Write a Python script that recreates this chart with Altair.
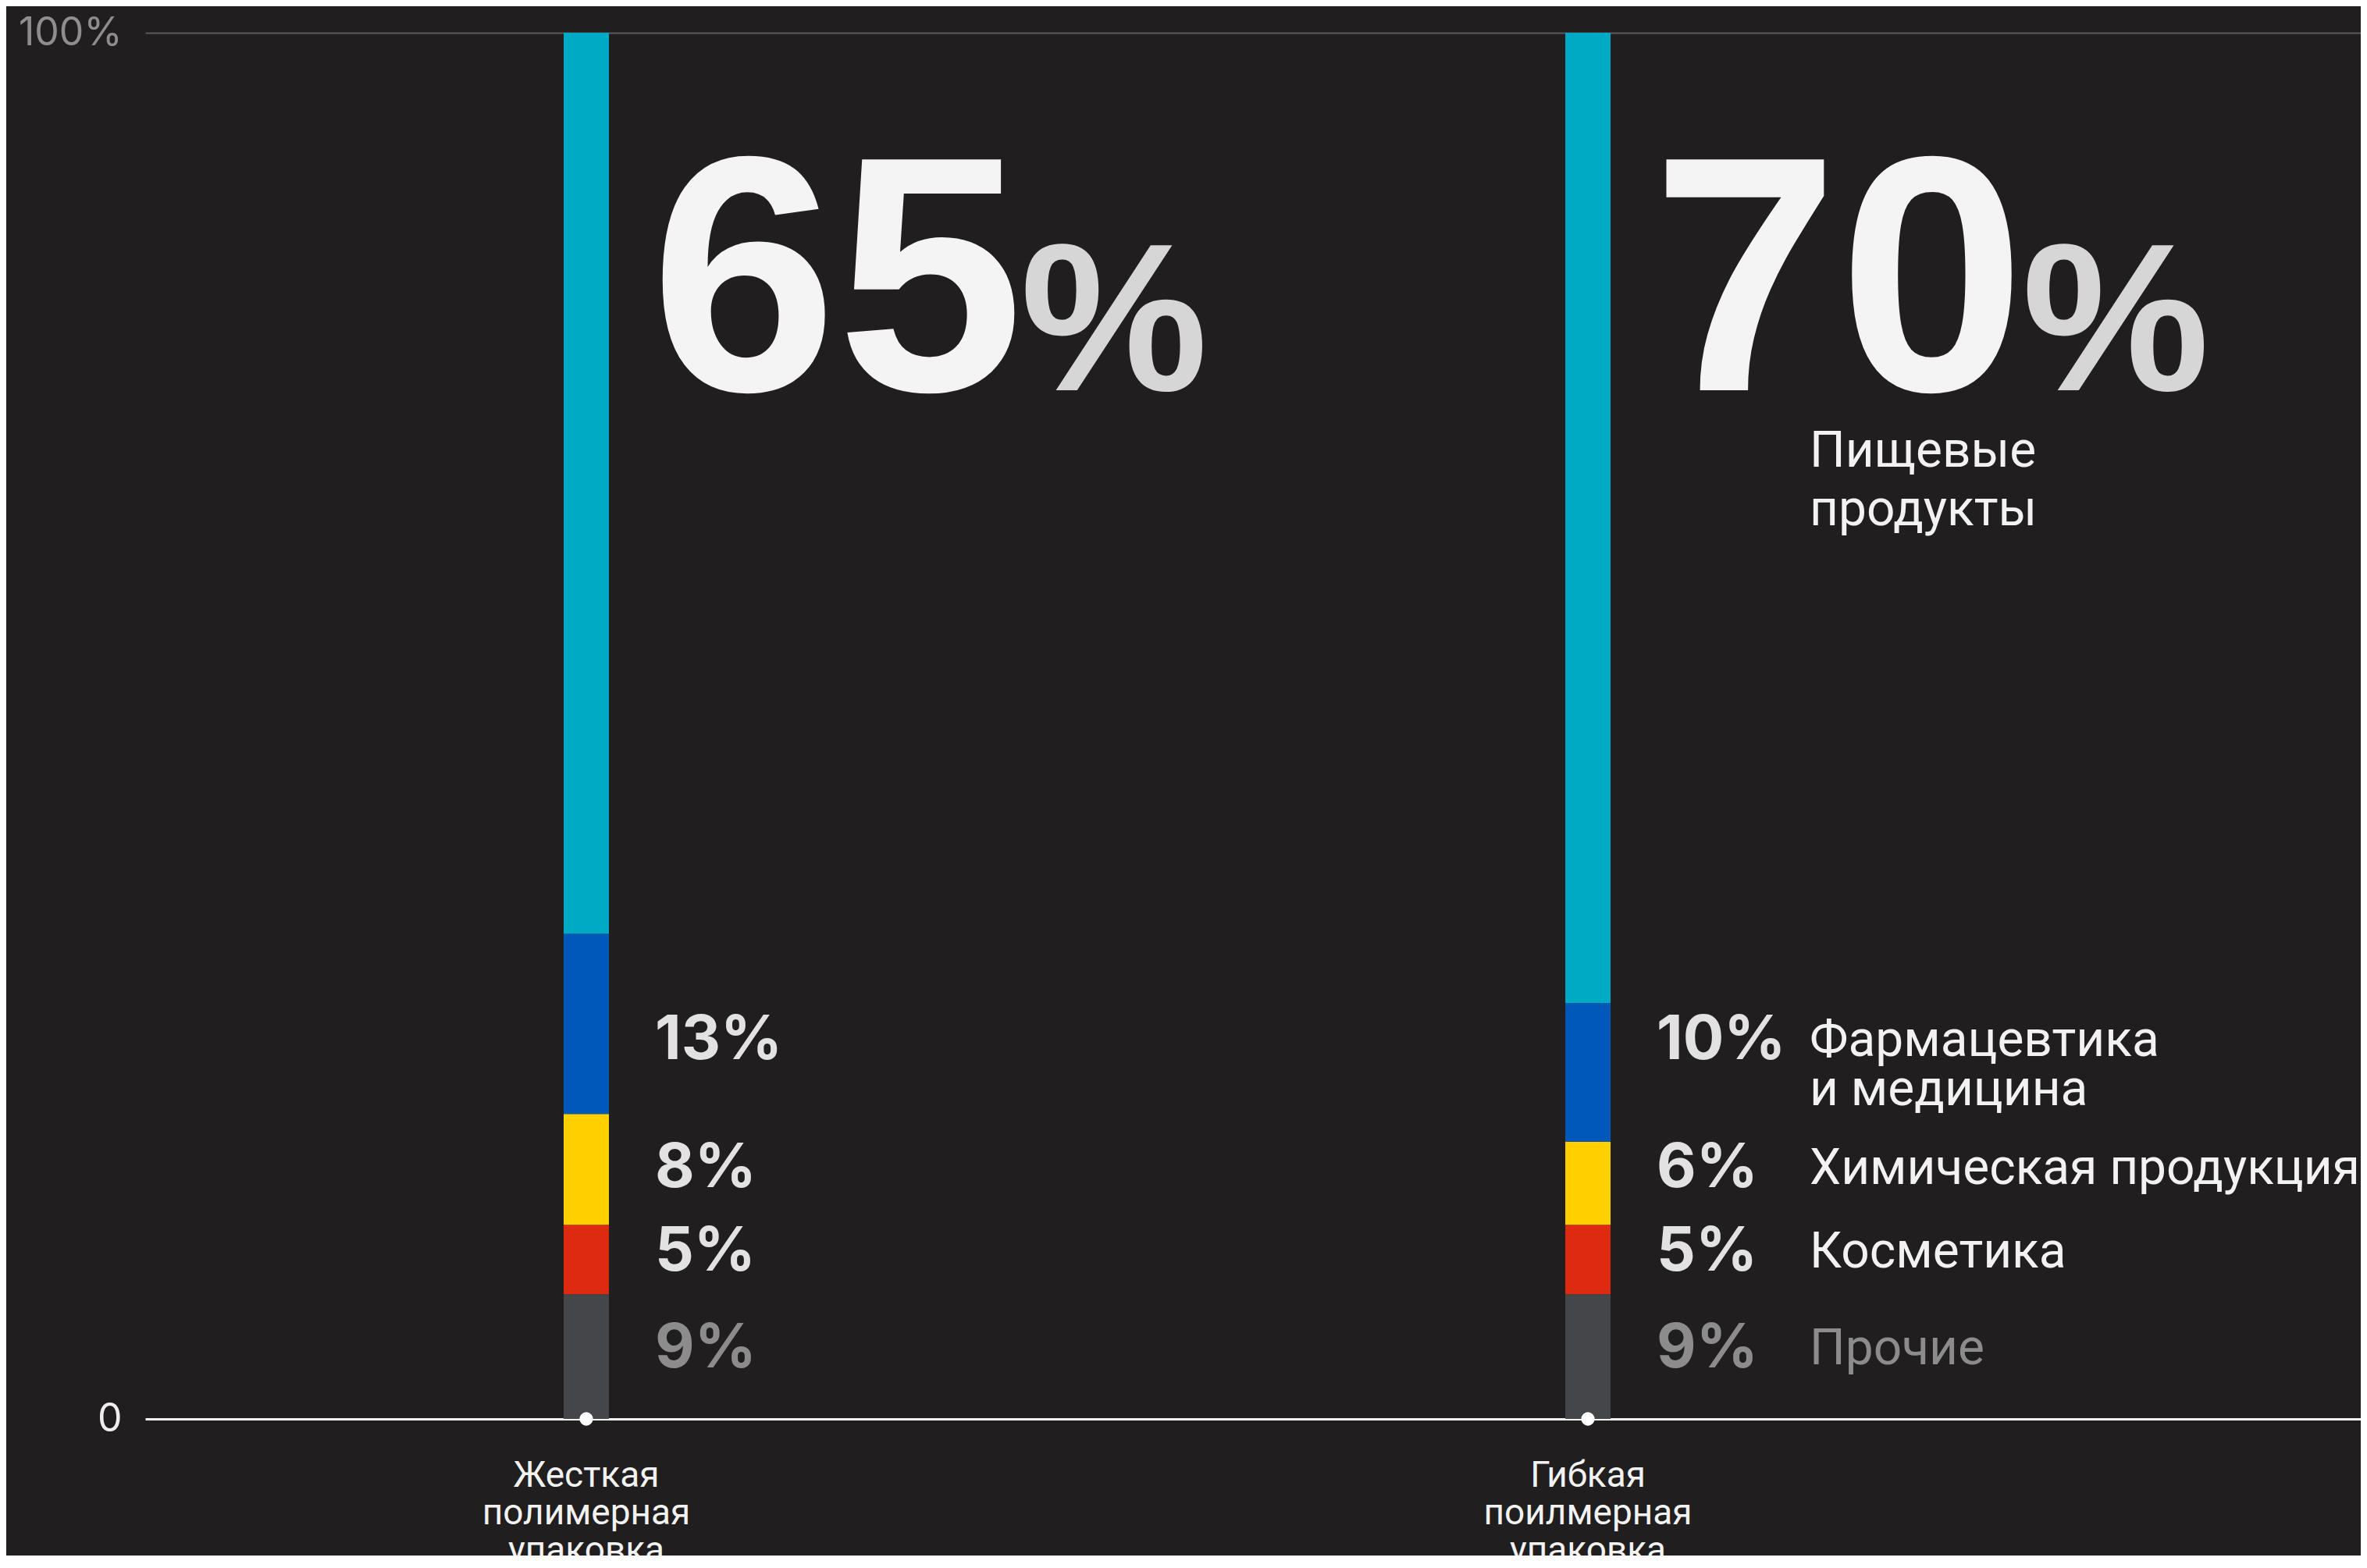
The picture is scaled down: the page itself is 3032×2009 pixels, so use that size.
import altair as alt
import pandas as pd

# ---- data ----
bars = ["Жесткая полимерная упаковка", "Гибкая поилмерная упаковка"]
segments = ["Пищевые продукты", "Фармацевтика и медицина", "Химическая продукция", "Косметика", "Прочие"]
segment_lines = [["Пищевые", "продукты"], ["Фармацевтика", "и медицина"], ["Химическая продукция"], ["Косметика"], ["Прочие"]]
rigid = [65, 13, 8, 5, 9]
flexible = [70, 10, 6, 5, 9]
colors = ["#00aac5", "#0058bb", "#ffd000", "#dd2a10", "#454649"]

# ---- tables built from the arrays ----
rows = []
for b, vals in zip(bars, [rigid, flexible]):
    base = 0
    for i in reversed(range(len(segments))):
        rows.append({"bar": b, "segment": segments[i], "idx": i, "value": vals[i],
                     "y0": base, "y1": base + vals[i], "mid": base + vals[i] / 2,
                     "pct": f"{vals[i]}%"})
        base += vals[i]
df = pd.DataFrame(rows)
avg_mid = df.groupby("segment")["mid"].mean()
df["label_y"] = df["segment"].map(avg_mid)
df["lines"] = df["idx"].map(lambda i: segment_lines[i])

small = df[df["idx"] > 0]
names = df[(df["bar"] == bars[1]) & (df["idx"] > 0)]
top_name = df[(df["bar"] == bars[1]) & (df["idx"] == 0)]
big = df[df["idx"] == 0]
dots = pd.DataFrame({"bar": bars, "zero": [0, 0]})

BG = "#201e1e"
LIGHT_FONT = "Roboto"
BIG_FONT = "Liberation Sans"

x_scale = alt.Scale(domain=bars, paddingInner=0.1193, paddingOuter=0.1656, align=0, round=False)
x_axis = alt.Axis(title=None, domain=False, ticks=False, grid=False, labelAngle=0,
                  labelExpr="split(datum.label, ' ')", labelFont=LIGHT_FONT,
                  labelFontSize=46, labelLineHeight=48, labelColor="#f2f2f2",
                  labelPadding=50, labelBaseline="top", labelLimit=1000)
y_scale = alt.Scale(domain=[0, 100], nice=False)
y_axis = alt.Axis(title=None, values=[0, 100], domain=False, ticks=False, grid=True,
                  labelExpr="datum.value == 100 ? '100%' : '0'",
                  labelFont="Inter", labelFontSize=50, labelFontWeight=400,
                  labelColor=alt.condition("datum.value == 0", alt.value("#eeeeee"), alt.value("#8e8e8e")),
                  gridColor=alt.condition("datum.value == 0", alt.value("#f5f5f5"), alt.value("#5a5a5a")),
                  gridWidth=alt.condition("datum.value == 0", alt.value(3), alt.value(2)),
                  labelPadding=30)

X = alt.X("bar:N", scale=x_scale, sort=bars, axis=x_axis)

bar_layer = alt.Chart(df).mark_bar(size=58).encode(
    x=X,
    y=alt.Y("y1:Q", scale=y_scale, axis=y_axis),
    y2="y0:Q",
    color=alt.Color("segment:N", scale=alt.Scale(domain=segments, range=colors), legend=None),
)

dot_layer = alt.Chart(dots).mark_point(filled=True, size=300, color="#ffffff", opacity=1).encode(
    x=X, y=alt.Y("zero:Q", scale=y_scale)
)

pct_layer = alt.Chart(small).mark_text(align="left", baseline="alphabetic", dx=88, dy=14,
                                       font="Inter", fontSize=78, fontWeight=700).encode(
    x=X, y=alt.Y("label_y:Q", scale=y_scale), text="pct:N",
    color=alt.condition(alt.datum.segment == "Прочие", alt.value("#8c8c8c"), alt.value("#e2e2e2")),
)

name_layer = alt.Chart(names).mark_text(align="left", baseline="alphabetic", dx=284, dy=10,
                                        font=LIGHT_FONT, fontSize=64, lineHeight=63).encode(
    x=X, y=alt.Y("label_y:Q", scale=y_scale), text="lines",
    color=alt.condition(alt.datum.segment == "Прочие", alt.value("#8c8c8c"), alt.value("#f2f2f2")),
)

top_name_layer = alt.Chart(top_name).mark_text(align="left", baseline="alphabetic", dx=284, dy=556,
                                               font=LIGHT_FONT, fontSize=64, lineHeight=75,
                                               color="#f2f2f2").encode(
    x=X, y=alt.datum(100), text="lines",
)

big_num = alt.Chart(big).transform_calculate(num="toString(datum.value)").mark_text(
    align="left", baseline="alphabetic", dx=82, dy=458,
    font=BIG_FONT, fontSize=430, fontWeight="bold", color="#f4f4f4").encode(
    x=X, y=alt.datum(100), text="num:N",
)

big_pct = alt.Chart(big).transform_calculate(p="'%'").mark_text(
    align="left", baseline="alphabetic", dx=556, dy=458,
    font=BIG_FONT, fontSize=270, fontWeight="bold", color="#d6d6d6").encode(
    x=X, y=alt.datum(100), text="p:N",
)

chart = alt.layer(bar_layer, dot_layer, pct_layer, name_layer, top_name_layer, big_num, big_pct).properties(
    width=2838, height=1776,
    autosize=alt.AutoSizeParams(type="none"),
    padding={"left": 178, "top": 34, "right": 0, "bottom": 175},
    background=BG,
).configure_view(stroke=None)

chart.save("out.html", embed_options={"renderer": "svg", "actions": False})
